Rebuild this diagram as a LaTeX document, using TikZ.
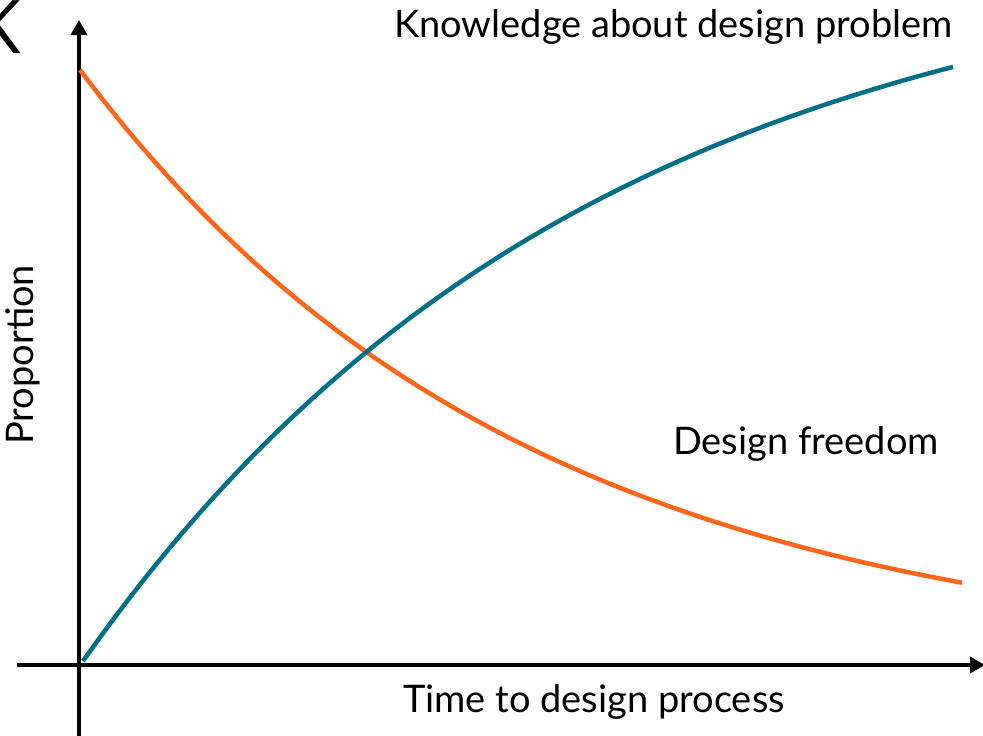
\documentclass[tikz,border=0pt]{standalone}
\usepackage{fontspec}
\setmainfont{Lato}
\newfontfamily\fragfont{Open Sans}
\usetikzlibrary{arrows.meta}
\definecolor{curveorange}{RGB}{255,102,26}
\definecolor{curveteal}{RGB}{0,112,136}
\tikzset{
  axisline/.style={line width=4.5pt, black, -{Triangle[length=15pt,width=16pt]}},
  curveline/.style={line width=4.5pt, line cap=butt},
  lbl/.style={inner sep=0pt, font=\fontsize{38}{46}\selectfont},
}
\begin{document}
\begin{tikzpicture}[x=1pt,y=-1pt]
\useasboundingbox (0,0) rectangle (983,736);
\coordinate (ybot) at (79,736);
\coordinate (ytop) at (79,20);
\coordinate (xleft) at (17,665);
\coordinate (xright) at (985,665);
\draw[axisline] (ybot) -- (ytop);
\draw[axisline] (xleft) -- (xright);
% curves
\draw[curveline, curveorange] plot[domain=80:962, samples=120, smooth] (\x,{665-595*exp(-0.00224*(\x-80))});
\draw[curveline, curveteal] plot[domain=83:953, samples=120, smooth] (\x,{661-727*(1-exp(-0.00196*(\x-83)))});
% labels
\node[lbl, anchor=base west] (know) at (394,37.7) {Knowledge about design problem};
\node[lbl, anchor=base west] (free) at (673,454) {Design freedom};
\node[lbl, anchor=base west] (time) at (403,712) {Time to design process};
\node[lbl, anchor=base west, rotate=90] (prop) at (34,445) {Proportion};
\node[inner sep=0pt, anchor=base east, font=\fragfont\fontsize{74}{80}\selectfont] (frag) at (21,53) {K};
\end{tikzpicture}
\end{document}
